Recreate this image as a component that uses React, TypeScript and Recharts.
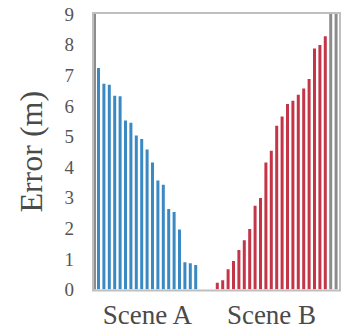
import React from "react"
import { Bar, BarChart, XAxis, YAxis } from "recharts"

// per-trial localisation error, sorted within each scene
const sceneA = [
  7.24, 6.72, 6.69, 6.33, 6.31, 5.52, 5.45, 5.03, 4.92, 4.57, 4.15, 3.56, 3.42,
  2.63, 2.53, 1.96, 0.89, 0.86, 0.8,
]
const sceneB = [
  0.22, 0.3, 0.66, 0.93, 1.29, 1.61, 1.98, 2.74, 2.99, 4.15, 4.53, 5.35, 5.65,
  6.06, 6.17, 6.36, 6.57, 6.88, 7.87, 7.99, 8.27,
]
// next scene, cut off by the axis limit
const sceneC = [9, 9]
const gapSlots = 3

const yTicks = [0, 1, 2, 3, 4, 5, 6, 7, 8, 9]
const groupTicks = ["a9", "b10"]
const groupLabels: Record<string, string> = { a9: "Scene A", b10: "Scene B" }

const BLUE = "#3a89c3"
const RED = "#c53548"
const GREY = "#8c8c8c"
const FRAME = "#bfbfbf"
const FONT = "'Liberation Serif', 'DejaVu Serif', serif"

const W = 342
const H = 331
const M = { top: 14, right: 3, bottom: 0, left: 0 }
const Y_AXIS_W = 95
const X_AXIS_H = 41.5

type Row = { id: string; a?: number; b?: number; c?: number }

const rows: Row[] = [
  ...sceneA.map((v, i) => ({ id: `a${i}`, a: v })),
  ...Array.from({ length: gapSlots }, (_, i) => ({ id: `gap${i}` })),
  ...sceneB.map((v, i) => ({ id: `b${i}`, b: v })),
  ...sceneC.map((v, i) => ({ id: `c${i}`, c: v })),
]

function GroupTick({ x, y, payload }: any) {
  return (
    <text
      x={x}
      y={y}
      dy={28}
      textAnchor="middle"
      fill="#4a4a4a"
      fontFamily={FONT}
      fontSize={27}
    >
      {groupLabels[payload.value] ?? ""}
    </text>
  )
}

function YTitle({ viewBox }: any) {
  const cx = viewBox.x + 31
  const cy = viewBox.y + viewBox.height / 2
  return (
    <text
      x={cx}
      y={cy}
      transform={`rotate(-90 ${cx} ${cy})`}
      textAnchor="middle"
      dominantBaseline="central"
      fill="#4a4a4a"
      fontFamily={FONT}
      fontSize={32}
    >
      Error (m)
    </text>
  )
}

export default function App() {
  const plotLeft = M.left + Y_AXIS_W
  const plotBottom = H - M.bottom - X_AXIS_H
  return (
    <div style={{ position: "absolute", left: 0, top: 0, width: W, height: H }}>
      <BarChart width={W} height={H} data={rows} margin={M}>
        <XAxis
          dataKey="id"
          ticks={groupTicks}
          interval={0}
          tick={<GroupTick />}
          tickLine={false}
          axisLine={false}
          tickMargin={0}
          height={X_AXIS_H}
          padding={{ left: 1, right: 0 }}
        />
        <YAxis
          domain={[0, 9]}
          ticks={yTicks}
          allowDataOverflow
          width={Y_AXIS_W}
          tickLine={false}
          tickMargin={15}
          axisLine={{ stroke: GREY, strokeWidth: 2 }}
          tick={{ fill: "#555", fontFamily: FONT, fontSize: 19 }}
          label={<YTitle />}
        />
        <Bar dataKey="a" stackId="e" fill={BLUE} barSize={3} isAnimationActive={false} />
        <Bar dataKey="b" stackId="e" fill={RED} barSize={3} isAnimationActive={false} />
        <Bar dataKey="c" stackId="e" fill={GREY} barSize={2} isAnimationActive={false} />
      </BarChart>
      {/* light frame around the axes */}
      <svg
        width={W}
        height={H}
        style={{ position: "absolute", left: 0, top: 0, pointerEvents: "none" }}
      >
        <rect
          x={plotLeft - 2}
          y={M.top - 1}
          width={W - M.right - plotLeft + 3}
          height={plotBottom - M.top + 2}
          fill="none"
          stroke={FRAME}
          strokeWidth={2}
        />
      </svg>
    </div>
  )
}
